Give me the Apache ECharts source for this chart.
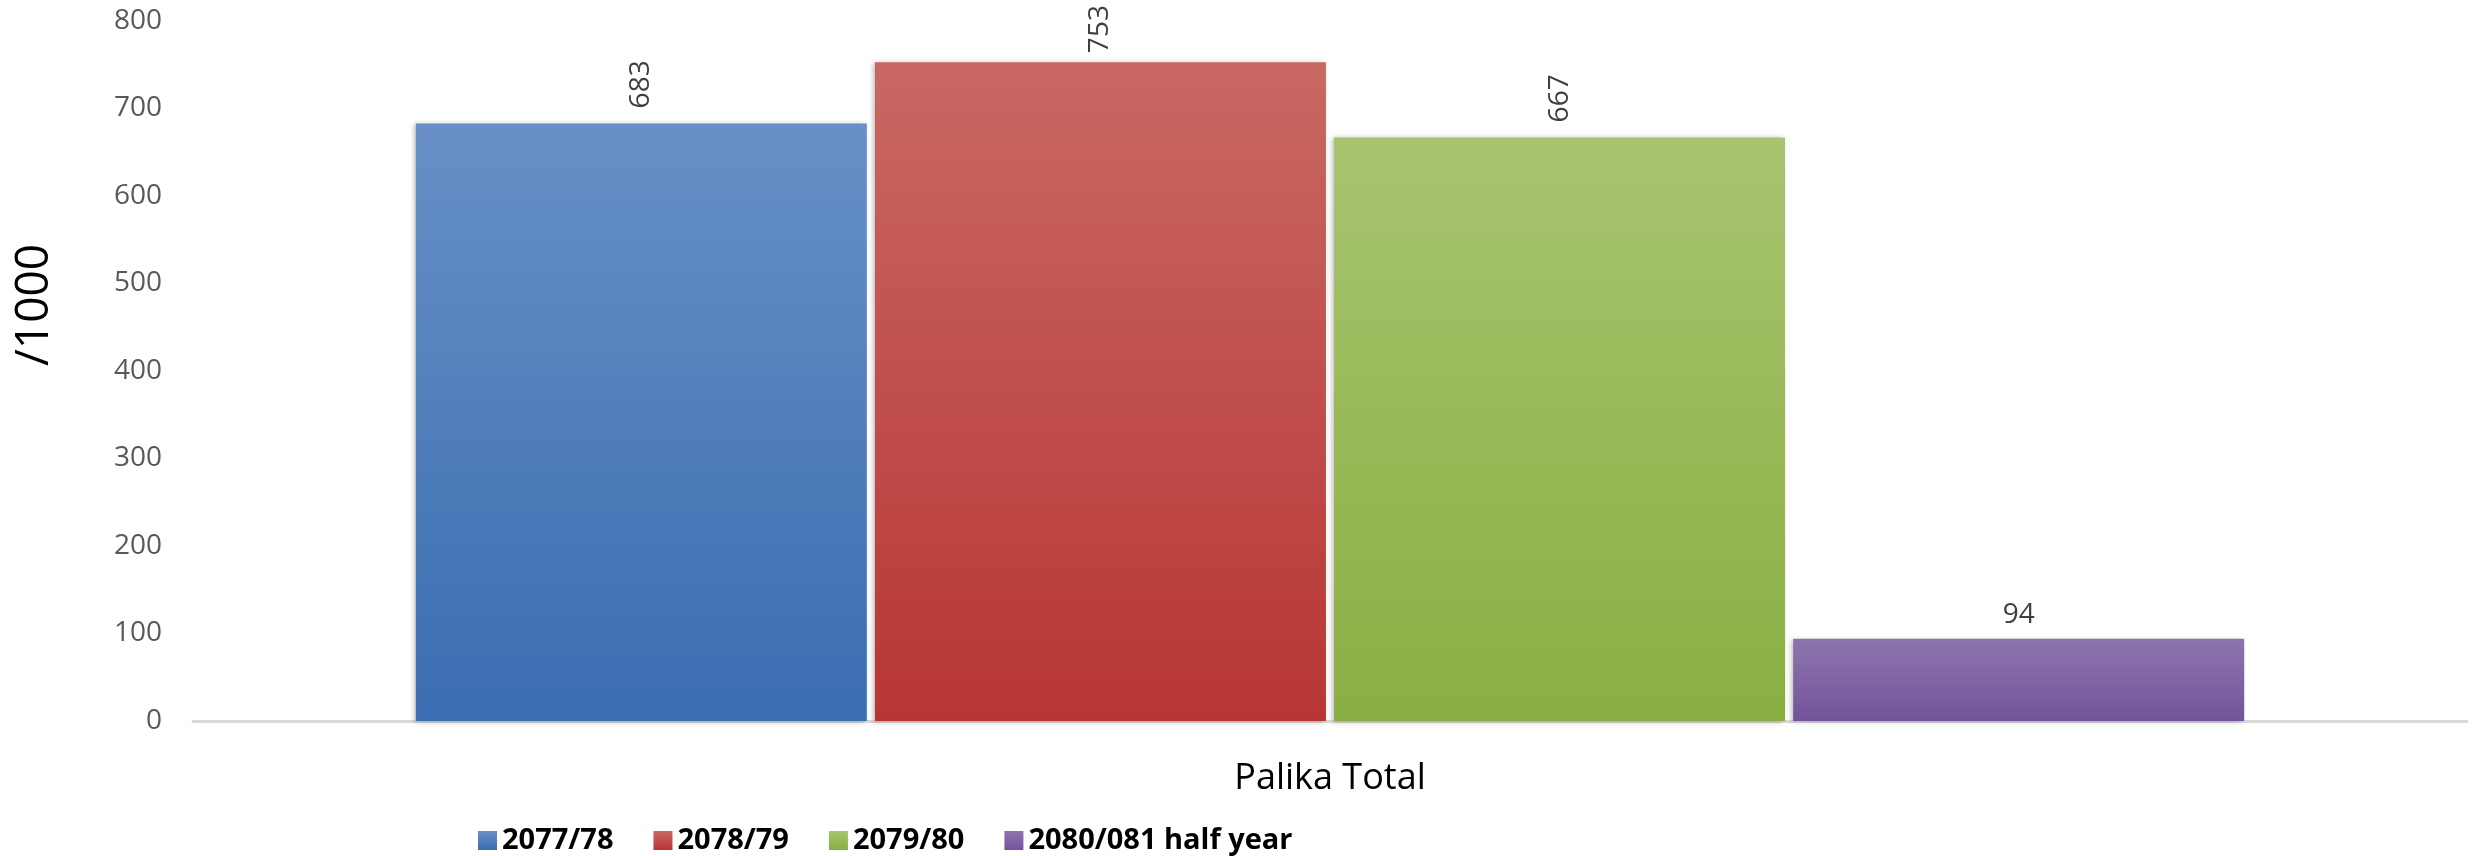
<!DOCTYPE html>
<html>
<head>
<meta charset="utf-8">
<script src="https://cdn.jsdelivr.net/npm/echarts@6/dist/echarts.min.js"></script>
<style>
  html, body { margin: 0; padding: 0; background: #fff; }
  #chart { width: 2475px; height: 856px; }
</style>
</head>
<body>
<div id="chart"></div>
<script>
// 数据
const categories = ['Palika Total']
const seriesNames = ['2077/78', '2078/79', '2079/80', '2080/081 half year']
const values = [683, 753, 667, 94]
const yTicks = [0, 100, 200, 300, 400, 500, 600, 700, 800]

// 渐变色（上浅下深）
const colors = [
  ['#6890c6', '#3a6db1'],
  ['#c96863', '#b73634'],
  ['#a8c46f', '#89af42'],
  ['#8d75ae', '#73539a'],
]
// 标签与柱顶的距离（753 靠近顶部，略微压低）
const labelDistance = [15, 9, 15, 10]

const grad = (c) => new echarts.graphic.LinearGradient(0, 0, 0, 1, [
  {offset: 0, color: c[0]},
  {offset: 1, color: c[1]},
])

const myChart = echarts.init(document.getElementById('chart'))

myChart.setOption({
  animation: false,
  backgroundColor: '#fff',
  grid: {left: 193, right: 8, top: 21, bottom: 135, containLabel: false},
  legend: {
    left: 478,
    top: 826,
    padding: 0,
    icon: 'rect',
    itemWidth: 19,
    itemHeight: 19,
    itemGap: 40,
    textStyle: {fontFamily: 'Open Sans', fontSize: 29, fontWeight: 'bold', color: '#000'},
    data: seriesNames,
  },
  xAxis: {
    type: 'category',
    data: categories,
    axisTick: {show: false},
    axisLine: {lineStyle: {color: '#d9d9d9', width: 3}},
    axisLabel: {margin: 40, fontFamily: 'Open Sans', fontSize: 36, color: '#000'},
  },
  yAxis: {
    type: 'value',
    min: yTicks[0],
    max: yTicks[yTicks.length - 1],
    interval: 100,
    splitLine: {show: false},
    axisLine: {show: false},
    axisTick: {show: false},
    axisLabel: {margin: 31, fontFamily: 'Open Sans', fontSize: 28, color: '#595959'},
  },
  graphic: [
    {
      type: 'text',
      x: 35,
      y: 305,
      rotation: Math.PI / 2,
      style: {
        text: '/1000',
        fontFamily: 'Open Sans',
        fontSize: 46,
        fill: '#000',
        align: 'center',
        verticalAlign: 'middle',
      },
    },
  ],
  series: seriesNames.map((name, i) => ({
    name: name,
    type: 'bar',
    barWidth: 451,
    barGap: '1.8%',
    data: [values[i]],
    itemStyle: {
      color: grad(colors[i]),
      shadowColor: 'rgba(0,0,0,0.28)',
      shadowBlur: 5,
      shadowOffsetX: -2,
      shadowOffsetY: 1,
    },
    label: {
      show: true,
      position: 'top',
      distance: labelDistance[i],
      rotate: i < 3 ? 90 : 0,
      align: i < 3 ? 'left' : 'center',
      verticalAlign: i < 3 ? 'middle' : 'bottom',
      fontFamily: 'Open Sans',
      fontSize: 28,
      color: '#404040',
    },
  })),
})
</script>
</body>
</html>
